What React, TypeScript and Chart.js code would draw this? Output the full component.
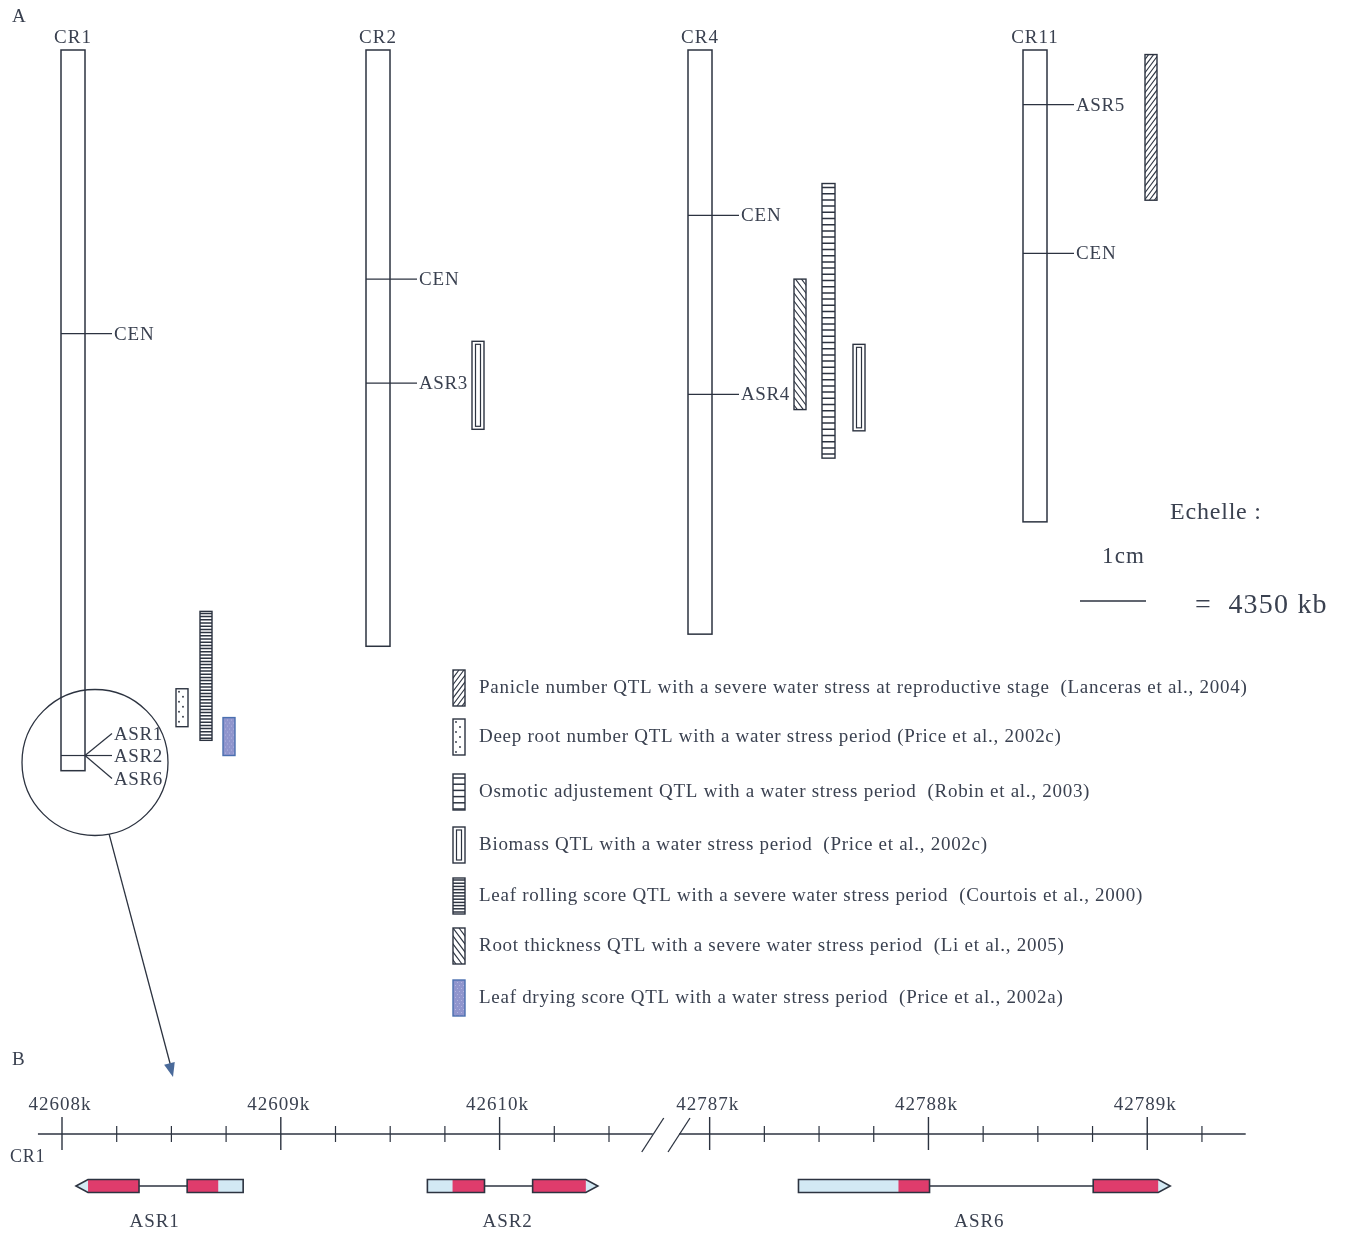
import React, { useEffect, useRef } from "react";
import { Chart, registerables } from "chart.js";
Chart.register(...registerables);

// ---------------- Panel A data (positions in Mb from the top of each chromosome) ----------------
const chromosomes = ["CR1", "CR2", "CR4", "CR11"];
const chromLengthMb = [47.5, 39.3, 38.5, 31.1];
const centromereMb = [18.7, 15.1, 10.9, 13.4];

const markerChrom = ["CR2", "CR4", "CR11"];
const markerLabels = ["ASR3", "ASR4", "ASR5"];
const markerMb = [21.95, 22.7, 3.6];

const clusterChrom = "CR1";
const clusterLabels = ["ASR1", "ASR2", "ASR6"];
const clusterMb = 46.5;

const qtlChrom = ["CR1", "CR1", "CR1", "CR2", "CR4", "CR4", "CR4", "CR11"];
const qtlTrait = ["leafRolling", "deepRoot", "leafDrying", "biomass", "rootThickness", "osmotic", "biomass", "panicle"];
const qtlStartMb = [37.0, 42.1, 44.0, 19.2, 15.1, 8.8, 19.4, 0.3];
const qtlEndMb = [45.5, 44.6, 46.5, 25.0, 23.7, 26.9, 25.1, 9.9];

const legendTraits = ["panicle", "deepRoot", "osmotic", "biomass", "leafRolling", "rootThickness", "leafDrying"];
const legendLabels = [
  "Panicle number QTL with a severe water stress at reproductive stage  (Lanceras et al., 2004)",
  "Deep root number QTL with a water stress period (Price et al., 2002c)",
  "Osmotic adjustement QTL with a water stress period  (Robin et al., 2003)",
  "Biomass QTL with a water stress period  (Price et al., 2002c)",
  "Leaf rolling score QTL with a severe water stress period  (Courtois et al., 2000)",
  "Root thickness QTL with a severe water stress period  (Li et al., 2005)",
  "Leaf drying score QTL with a water stress period  (Price et al., 2002a)",
];

const scaleBarKb = 4350;
const scaleTitle = "Echelle :";
const scaleUnit = "1cm";
const scaleText = "=  4350 kb";

// ---------------- Panel B data (kb) ----------------
const axisMajorKb = [42608, 42609, 42610, 42787, 42788, 42789];
const axisMajorLabels = ["42608k", "42609k", "42610k", "42787k", "42788k", "42789k"];
const axisMinorKb = [42608.25, 42608.5, 42608.75, 42609.25, 42609.5, 42609.75, 42610.25, 42610.5,
  42787.25, 42787.5, 42787.75, 42788.25, 42788.5, 42788.75, 42789.25];
const axisRangeKb = [42607.89, 42789.45];
const axisBreakKb = [42610.7, 42786.86];

const geneNames = ["ASR1", "ASR2", "ASR6"];
const geneStrand = [-1, 1, 1];
const geneExonsKb = [
  [[42608.064, 42608.352], [42608.572, 42608.828]],
  [[42609.670, 42609.931], [42610.151, 42610.449]],
  [[42787.406, 42788.005], [42788.753, 42789.105]],
];
const geneCdsKb = [
  [[42608.119, 42608.352], [42608.572, 42608.714]],
  [[42609.785, 42609.931], [42610.151, 42610.394]],
  [[42787.863, 42788.005], [42788.753, 42789.050]],
];

// ---------------- layout / style ----------------
const W = 1348;
const H = 1236;
const MB_PX = 66 / 4.35; // scale bar: 1cm (66px) = 4350 kb
const TOP_PX = 50;
const CHROM_X = [61, 366, 688, 1023];
const CHROM_W = 24;
const QTL_X = [200, 176, 223, 472, 794, 822, 853, 1145];
const QTL_W = 12;
const LEGEND_X = 453;
const LEGEND_TEXT_X = 479;
const LEGEND_ROW_Y = [688, 737, 792, 845, 896, 946, 998];
const PX_PER_KB = 218.8;
const KB_ORIGIN_PX = 62;
const KB_GAP = 176.04;
const AXIS_Y = 1134;
const GENE_Y = 1186;

const INK = "#2c3340";
const TEXT = "#3a4150";
const SERIF = "'Liberation Serif', 'DejaVu Serif', serif";
const CDS_RED = "#df3c6c";
const UTR_BLUE = "#d3e9f4";

const kbToScale = (kb: number) => (kb > 42700 ? kb - KB_GAP : kb);

function line(ctx: CanvasRenderingContext2D, x1: number, y1: number, x2: number, y2: number) {
  ctx.beginPath();
  ctx.moveTo(x1, y1);
  ctx.lineTo(x2, y2);
  ctx.stroke();
}

function text(ctx: CanvasRenderingContext2D, s: string, x: number, y: number, size: number, spacing: number, align: CanvasTextAlign = "left") {
  ctx.save();
  ctx.font = `${size}px ${SERIF}`;
  (ctx as any).letterSpacing = `${spacing}px`;
  ctx.textBaseline = "middle";
  ctx.fillStyle = TEXT;
  let w = ctx.measureText(s).width;
  let xx = x;
  if (align === "center") xx = x - w / 2;
  else if (align === "right") xx = x - w;
  ctx.textAlign = "left";
  ctx.fillText(s, xx, y);
  ctx.restore();
}

function drawQtl(ctx: CanvasRenderingContext2D, trait: string, x: number, y0: number, w: number, y1: number) {
  const h = y1 - y0;
  ctx.save();
  ctx.fillStyle = trait === "leafDrying" ? "#9095cd" : "#ffffff";
  ctx.fillRect(x, y0, w, h);
  ctx.save();
  ctx.beginPath();
  ctx.rect(x, y0, w, h);
  ctx.clip();
  ctx.strokeStyle = INK;
  ctx.fillStyle = INK;
  ctx.lineWidth = 1;
  if (trait === "leafRolling") {
    ctx.lineWidth = 1.5;
    for (let yy = y0 + 2; yy < y1; yy += 3.2) line(ctx, x, yy, x + w, yy);
  } else if (trait === "osmotic") {
    ctx.lineWidth = 1.5;
    for (let yy = y0 + 4; yy < y1; yy += 6.2) line(ctx, x, yy, x + w, yy);
  } else if (trait === "deepRoot") {
    let r = 0;
    for (let yy = y0 + 3; yy < y1 - 1; yy += 5, r++) {
      const off = r % 2 === 0 ? 3 : 7;
      for (let xx = x + off; xx < x + w - 1; xx += 8) {
        ctx.beginPath();
        ctx.arc(xx, yy, 0.9, 0, Math.PI * 2);
        ctx.fill();
      }
    }
  } else if (trait === "biomass") {
    ctx.lineWidth = 1.2;
    ctx.strokeRect(x + 3.5, y0 + 3, w - 7, h - 6);
  } else if (trait === "rootThickness") {
    ctx.lineWidth = 1.1;
    for (let k = -h; k < w + h; k += 6) line(ctx, x + k, y0, x + k + h * 0.75, y0 + h);
  } else if (trait === "panicle") {
    ctx.lineWidth = 1.1;
    for (let k = -h; k < w + h; k += 5) line(ctx, x + k, y0 + h, x + k + h * 0.75, y0);
  } else if (trait === "leafDrying") {
    ctx.fillStyle = "#b3b6e0";
    let r = 0;
    for (let yy = y0 + 2; yy < y1; yy += 3, r++) {
      for (let xx = x + (r % 2 ? 2 : 4); xx < x + w; xx += 4) ctx.fillRect(xx, yy, 1, 1);
    }
  }
  ctx.restore();
  ctx.lineWidth = 1.4;
  ctx.strokeStyle = trait === "leafDrying" ? "#4a6fb0" : INK;
  ctx.strokeRect(x, y0, w, h);
  ctx.restore();
}

const diagramPlugin = {
  id: "diagram",
  beforeDraw(chart: any) {
    const ctx: CanvasRenderingContext2D = chart.ctx;
    ctx.save();
    ctx.fillStyle = "#ffffff";
    ctx.fillRect(0, 0, chart.width, chart.height);
    ctx.restore();
  },
  afterDraw(chart: any) {
    const ctx: CanvasRenderingContext2D = chart.ctx;
    const px = chart.scales.x;
    const py = chart.scales.y;
    const mb = chart.scales.yMb;
    const kb = chart.scales.xKb;
    const X = (v: number) => px.getPixelForValue(v);
    const Y = (v: number) => py.getPixelForValue(v);
    const M = (v: number) => mb.getPixelForValue(v);
    const K = (v: number) => kb.getPixelForValue(kbToScale(v));

    ctx.save();
    ctx.strokeStyle = INK;

    // panel letters
    text(ctx, "A", X(12), Y(17), 19, 0.5);
    text(ctx, "B", X(12), Y(1060), 19, 0.5);

    // chromosomes
    chromosomes.forEach((name, i) => {
      const cx = X(CHROM_X[i]);
      const top = M(0);
      const bot = M(chromLengthMb[i]);
      ctx.lineWidth = 1.5;
      ctx.strokeStyle = INK;
      ctx.strokeRect(cx, top, CHROM_W, bot - top);
      text(ctx, name, cx + CHROM_W / 2, Y(38), 19, 1, "center");
      // centromere
      const yc = M(centromereMb[i]);
      ctx.lineWidth = 1.2;
      line(ctx, cx, yc, cx + CHROM_W + 27, yc);
      text(ctx, "CEN", cx + CHROM_W + 29, yc + 1, 19, 0.9);
    });

    // single markers
    markerLabels.forEach((lab, i) => {
      const ci = chromosomes.indexOf(markerChrom[i]);
      const cx = X(CHROM_X[ci]);
      const yv = M(markerMb[i]);
      ctx.lineWidth = 1.2;
      line(ctx, cx, yv, cx + CHROM_W + 27, yv);
      text(ctx, lab, cx + CHROM_W + 29, yv + 1, 19, 0.6);
    });

    // cluster on CR1
    {
      const ci = chromosomes.indexOf(clusterChrom);
      const cx = X(CHROM_X[ci]);
      const yv = M(clusterMb);
      ctx.lineWidth = 1.2;
      line(ctx, cx, yv, cx + CHROM_W, yv);
      const offs = [-22, 0, 23];
      clusterLabels.forEach((lab, j) => {
        line(ctx, cx + CHROM_W, yv, cx + CHROM_W + 27, yv + offs[j]);
        text(ctx, lab, cx + CHROM_W + 29, yv + offs[j] + 1, 19, 0.6);
      });
      // magnifier circle
      const ccx = cx + 34;
      const ccy = yv + 7;
      ctx.lineWidth = 1.3;
      ctx.beginPath();
      ctx.arc(ccx, ccy, 73, 0, Math.PI * 2);
      ctx.stroke();
      // arrow to panel B
      const a0 = Math.atan2(66, 13);
      const sx = ccx + 73 * Math.cos(a0);
      const sy = ccy + 73 * Math.sin(a0);
      const ex = X(173);
      const ey = Y(1077);
      ctx.lineWidth = 1.3;
      line(ctx, sx, sy, ex - 2, ey - 10);
      const ang = Math.atan2(ey - sy, ex - sx);
      ctx.fillStyle = "#4a6a9a";
      ctx.beginPath();
      ctx.moveTo(ex, ey);
      ctx.lineTo(ex - 14 * Math.cos(ang) + 5.5 * Math.sin(ang), ey - 14 * Math.sin(ang) - 5.5 * Math.cos(ang));
      ctx.lineTo(ex - 14 * Math.cos(ang) - 5.5 * Math.sin(ang), ey - 14 * Math.sin(ang) + 5.5 * Math.cos(ang));
      ctx.closePath();
      ctx.fill();
    }

    // QTL bars
    qtlTrait.forEach((trait, i) => {
      const w = trait === "osmotic" ? QTL_W + 1 : QTL_W;
      drawQtl(ctx, trait, X(QTL_X[i]), M(qtlStartMb[i]), w, M(qtlEndMb[i]));
    });

    // legend
    legendTraits.forEach((trait, i) => {
      const yc = Y(LEGEND_ROW_Y[i]);
      drawQtl(ctx, trait, X(LEGEND_X), yc - 18, QTL_W, yc + 18);
      text(ctx, legendLabels[i], X(LEGEND_TEXT_X), yc, 19, 0.72);
    });

    // scale
    text(ctx, scaleTitle, X(1170), Y(513), 24, 0.8);
    text(ctx, scaleUnit, X(1102), Y(557), 23, 1.2);
    const barLen = M(scaleBarKb / 1000) - M(0);
    ctx.lineWidth = 1.3;
    ctx.strokeStyle = INK;
    line(ctx, X(1080), Y(601), X(1080) + barLen, Y(601));
    text(ctx, scaleText, X(1195), Y(606), 28, 1.2);

    // ---------- panel B ----------
    const ay = Y(AXIS_Y);
    ctx.strokeStyle = INK;
    ctx.lineWidth = 1.5;
    line(ctx, K(axisRangeKb[0]), ay, K(axisBreakKb[0]), ay);
    line(ctx, K(axisBreakKb[1]), ay, K(axisRangeKb[1]), ay);
    axisBreakKb.forEach((b) => {
      const bx = K(b);
      ctx.lineWidth = 1.3;
      line(ctx, bx - 11, ay + 18, bx + 11, ay - 16);
    });
    axisMajorKb.forEach((v, i) => {
      const tx = K(v);
      ctx.lineWidth = 1.4;
      line(ctx, tx, ay - 17, tx, ay + 16);
      text(ctx, axisMajorLabels[i], tx - 2, Y(1105), 19, 1, "center");
    });
    axisMinorKb.forEach((v) => {
      const tx = K(v);
      ctx.lineWidth = 1.2;
      line(ctx, tx, ay - 8, tx, ay + 8);
    });
    text(ctx, "CR1", X(10), Y(1157), 18, 0.8);

    // genes
    const gy = Y(GENE_Y);
    const eh = 6.5;
    const TIP = 12;
    geneNames.forEach((g, i) => {
      const exons = geneExonsKb[i];
      const cds = geneCdsKb[i];
      ctx.strokeStyle = INK;
      ctx.lineWidth = 1.5;
      line(ctx, K(exons[0][1]), gy, K(exons[1][0]), gy);
      exons.forEach((ex, j) => {
        const x0 = K(ex[0]);
        const x1 = K(ex[1]);
        const leftTip = geneStrand[i] < 0 && j === 0;
        const rightTip = geneStrand[i] > 0 && j === exons.length - 1;
        ctx.beginPath();
        if (leftTip) {
          ctx.moveTo(x0, gy);
          ctx.lineTo(x0 + TIP, gy - eh);
          ctx.lineTo(x1, gy - eh);
          ctx.lineTo(x1, gy + eh);
          ctx.lineTo(x0 + TIP, gy + eh);
        } else if (rightTip) {
          ctx.moveTo(x0, gy - eh);
          ctx.lineTo(x1 - TIP, gy - eh);
          ctx.lineTo(x1, gy);
          ctx.lineTo(x1 - TIP, gy + eh);
          ctx.lineTo(x0, gy + eh);
        } else {
          ctx.rect(x0, gy - eh, x1 - x0, 2 * eh);
        }
        ctx.closePath();
        ctx.save();
        ctx.fillStyle = UTR_BLUE;
        ctx.fill();
        ctx.clip();
        ctx.fillStyle = CDS_RED;
        const c = cds[j];
        ctx.fillRect(K(c[0]), gy - eh, K(c[1]) - K(c[0]), 2 * eh);
        ctx.restore();
        ctx.lineWidth = 1.6;
        ctx.strokeStyle = INK;
        ctx.stroke();
      });
      const mid = (K(exons[0][0]) + K(exons[exons.length - 1][1])) / 2;
      text(ctx, g, mid - 5, Y(1222), 19, 0.9, "center");
    });

    ctx.restore();
  },
};

export default function App() {
  const ref = useRef<HTMLCanvasElement | null>(null);
  useEffect(() => {
    document.body.style.margin = "0";
    const canvas = ref.current;
    if (!canvas) return;
    const kbMin = 42608 - KB_ORIGIN_PX / PX_PER_KB;
    const chart = new Chart(canvas, {
      type: "scatter",
      data: { datasets: [{ data: [], xAxisID: "x", yAxisID: "y" }] },
      options: {
        animation: false,
        responsive: false,
        events: [],
        layout: { padding: 0 },
        plugins: { legend: { display: false }, tooltip: { enabled: false }, title: { display: false } },
        scales: {
          x: { type: "linear", min: 0, max: W, display: false },
          y: { type: "linear", min: 0, max: H, reverse: true, display: false },
          yMb: { type: "linear", axis: "y", min: -TOP_PX / MB_PX, max: (H - TOP_PX) / MB_PX, reverse: true, display: false },
          xKb: { type: "linear", axis: "x", min: kbMin, max: kbMin + W / PX_PER_KB, display: false },
        },
      },
      plugins: [diagramPlugin],
    } as any);
    return () => chart.destroy();
  }, []);
  return (
    <div style={{ width: W, height: H, background: "#fff" }}>
      <canvas ref={ref} width={W} height={H} style={{ display: "block", width: W, height: H }} />
    </div>
  );
}
